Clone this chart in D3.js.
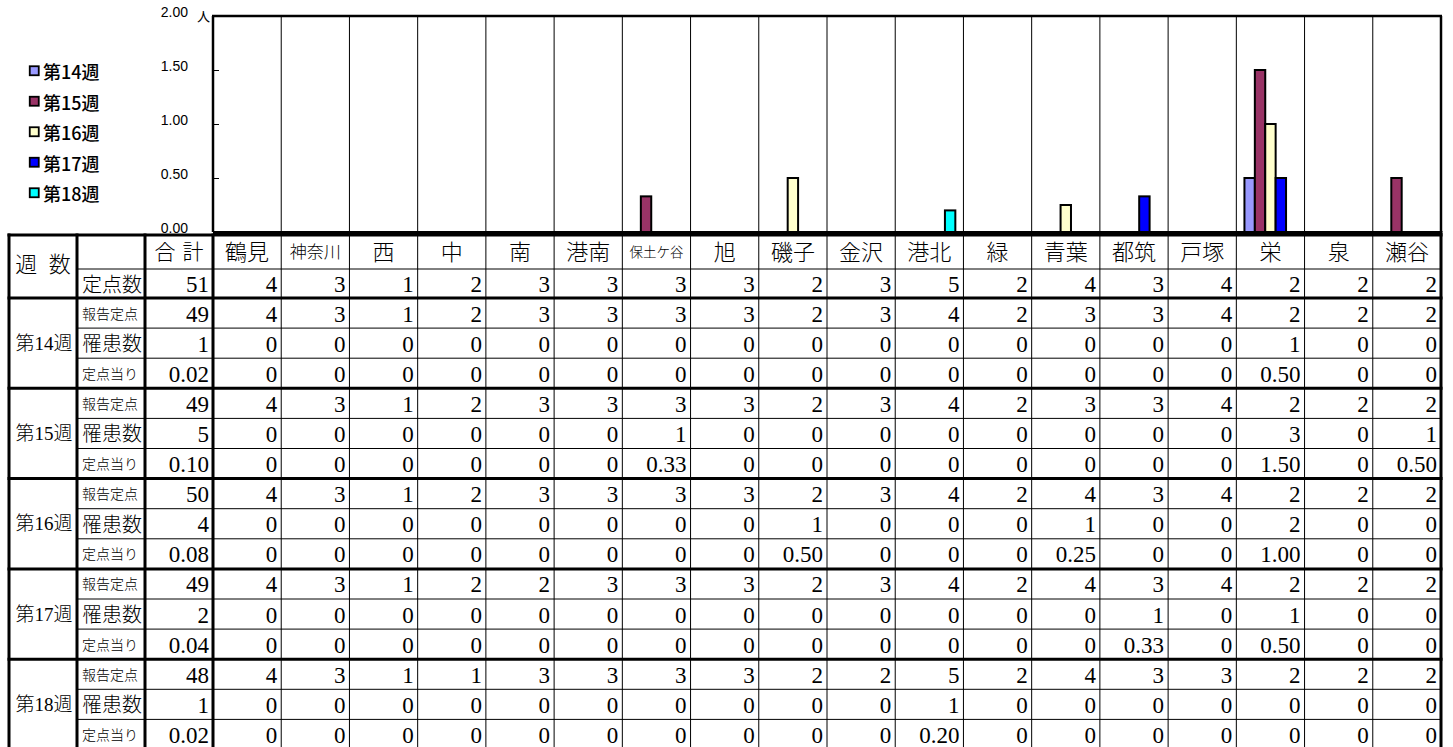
<!DOCTYPE html>
<html>
<head>
<meta charset="utf-8">
<script src="https://cdn.jsdelivr.net/npm/d3@7"></script>
<style>
body { margin: 0; background: #fff; }
</style>
</head>
<body>
<div id="chart"></div>
<script>
// 区・週
var districts = ["鶴見","神奈川","西","中","南","港南","保土ケ谷","旭","磯子","金沢","港北","緑","青葉","都筑","戸塚","栄","泉","瀬谷"];
var districtFont = {"神奈川": 17, "保土ケ谷": 13.5};
var weeks = ["第14週","第15週","第16週","第17週","第18週"];
var weekColors = ["#9999FF","#993366","#FFFFCC","#0000FF","#00FFFF"];
var yTicks = [0, 0.5, 1, 1.5, 2];

// 定点数
var sites = [4,3,1,2,3,3,3,3,2,3,5,2,4,3,4,2,2,2];
var sitesTotal = 51;

// 報告定点
var reported14 = [4,3,1,2,3,3,3,3,2,3,4,2,3,3,4,2,2,2];
var reported15 = [4,3,1,2,3,3,3,3,2,3,4,2,3,3,4,2,2,2];
var reported16 = [4,3,1,2,3,3,3,3,2,3,4,2,4,3,4,2,2,2];
var reported17 = [4,3,1,2,2,3,3,3,2,3,4,2,4,3,4,2,2,2];
var reported18 = [4,3,1,1,3,3,3,3,2,2,5,2,4,3,3,2,2,2];
var reportedTotals = [49,49,50,49,48];

// 罹患数
var cases14 = [0,0,0,0,0,0,0,0,0,0,0,0,0,0,0,1,0,0];
var cases15 = [0,0,0,0,0,0,1,0,0,0,0,0,0,0,0,3,0,1];
var cases16 = [0,0,0,0,0,0,0,0,1,0,0,0,1,0,0,2,0,0];
var cases17 = [0,0,0,0,0,0,0,0,0,0,0,0,0,1,0,1,0,0];
var cases18 = [0,0,0,0,0,0,0,0,0,0,1,0,0,0,0,0,0,0];
var casesTotals = [1,5,4,2,1];

// 定点当り
var rate14 = [0,0,0,0,0,0,0,0,0,0,0,0,0,0,0,0.50,0,0];
var rate15 = [0,0,0,0,0,0,0.33,0,0,0,0,0,0,0,0,1.50,0,0.50];
var rate16 = [0,0,0,0,0,0,0,0,0.50,0,0,0,0.25,0,0,1.00,0,0];
var rate17 = [0,0,0,0,0,0,0,0,0,0,0,0,0,0.33,0,0.50,0,0];
var rate18 = [0,0,0,0,0,0,0,0,0,0,0.20,0,0,0,0,0,0,0];
var rateTotals = [0.02,0.10,0.08,0.04,0.02];

var reported = [reported14, reported15, reported16, reported17, reported18];
var cases = [cases14, cases15, cases16, cases17, cases18];
var rates = [rate14, rate15, rate16, rate17, rate18];

var serif = "'Liberation Serif','Noto Sans CJK JP',serif";
var gothic = "'Noto Sans CJK JP',sans-serif";
var arial = "'Liberation Sans',Arial,sans-serif";

var W = 1453, H = 747;
var plot = {left: 213, right: 1441, top: 16, bottom: 232};

var svg = d3.select("#chart")
  .append("svg")
    .attr("width", W)
    .attr("height", H);

var x = d3.scaleBand()
  .domain(districts)
  .range([plot.left, plot.right]);

var xSub = d3.scaleBand()
  .domain(weeks)
  .range([0, x.bandwidth()])
  .paddingOuter(0.78);

var y = d3.scaleLinear()
  .domain([0, 2])
  .range([plot.bottom, plot.top]);

var color = d3.scaleOrdinal()
  .domain(weeks)
  .range(weekColors);

// category separators
svg.append("g")
  .selectAll("line")
  .data(districts.slice(1))
  .enter().append("line")
    .attr("x1", d => x(d)).attr("x2", d => x(d))
    .attr("y1", plot.top).attr("y2", plot.bottom)
    .attr("stroke", "#000")
    .attr("stroke-width", 1);

// bars
var bars = [];
weeks.forEach(function(w, i) {
  districts.forEach(function(d, j) {
    if (rates[i][j] > 0) bars.push({week: w, district: d, value: rates[i][j]});
  });
});

svg.append("g")
  .selectAll("rect")
  .data(bars)
  .enter().append("rect")
    .attr("x", d => x(d.district) + xSub(d.week))
    .attr("y", d => y(d.value))
    .attr("width", xSub.bandwidth())
    .attr("height", d => y(0) - y(d.value))
    .attr("fill", d => color(d.week))
    .attr("stroke", "#000")
    .attr("stroke-width", 2);

// y axis (ticks inside, labels left)
var yAxis = svg.append("g")
  .attr("transform", "translate(" + plot.left + ",0)")
  .call(d3.axisLeft(y).tickValues(yTicks).tickSize(-6).tickPadding(25).tickFormat(d3.format(".2f")));
yAxis.select(".domain").remove();
yAxis.selectAll("line").attr("stroke", "#000").attr("stroke-width", 1);
yAxis.selectAll("text")
  .attr("y", -4)
  .style("font-family", arial)
  .style("font-size", "14px")
  .attr("fill", "#000");

svg.append("text")
  .attr("x", 197).attr("y", 21)
  .style("font-family", gothic)
  .style("font-size", "13px")
  .text("人");

// plot frame
svg.append("line").attr("x1", plot.left - 1).attr("x2", plot.right + 1).attr("y1", plot.top).attr("y2", plot.top)
  .attr("stroke", "#000").attr("stroke-width", 2.5);
svg.append("line").attr("x1", plot.left).attr("x2", plot.left).attr("y1", plot.top).attr("y2", plot.bottom)
  .attr("stroke", "#000").attr("stroke-width", 2.5);
svg.append("line").attr("x1", plot.right).attr("x2", plot.right).attr("y1", plot.top).attr("y2", plot.bottom)
  .attr("stroke", "#000").attr("stroke-width", 2.5);
svg.append("line").attr("x1", plot.left).attr("x2", plot.right + 1.5).attr("y1", plot.bottom + 0.5).attr("y2", plot.bottom + 0.5)
  .attr("stroke", "#000").attr("stroke-width", 3);

// legend
var ly = d3.scalePoint().domain(weeks).range([71, 193]);
var legend = svg.selectAll(".legend")
  .data(weeks)
  .enter().append("g")
    .attr("class", "legend")
    .attr("transform", d => "translate(29," + ly(d) + ")");
legend.append("rect")
  .attr("x", 0.75).attr("y", -4.75)
  .attr("width", 9).attr("height", 9)
  .attr("fill", d => color(d))
  .attr("stroke", "#000")
  .attr("stroke-width", 1.8);
legend.append("text")
  .attr("x", 14)
  .attr("dominant-baseline", "central")
  .style("font-family", gothic)
  .style("font-size", "18px")
  .style("font-weight", 500)
  .text(d => d);

// table
var col = {weekL: 9, labelL: 77, totalL: 145, totalR: plot.left, right: plot.right};
var tableTop = 235, headH = 34, sitesH = 29, rowH = 30.1;
var intFmt = d => String(d);
var rateFmt = d => d === 0 ? "0" : d3.format(".2f")(d);

var rows = [];
rows.push({top: tableTop + headH, h: sitesH, label: "定点数", size: 20, total: String(sitesTotal), values: sites, fmt: intFmt});
weeks.forEach(function(w, i) {
  var t0 = tableTop + headH + sitesH + i * 3 * rowH;
  rows.push({top: t0, h: rowH, label: "報告定点", size: 14, total: String(reportedTotals[i]), values: reported[i], fmt: intFmt});
  rows.push({top: t0 + rowH, h: rowH, label: "罹患数", size: 20, total: String(casesTotals[i]), values: cases[i], fmt: intFmt});
  rows.push({top: t0 + 2 * rowH, h: rowH, label: "定点当り", size: 14, total: d3.format(".2f")(rateTotals[i]), values: rates[i], fmt: rateFmt});
});

var table = svg.append("g")
  .style("font-weight", 300);

// header row
table.append("text")
  .attr("x", (col.weekL + col.labelL) / 2)
  .attr("y", tableTop + (headH + sitesH) / 2 - 2)
  .attr("text-anchor", "middle")
  .attr("dominant-baseline", "central")
  .style("font-family", serif)
  .style("font-size", "22px")
  .style("word-spacing", "6px")
  .text("週 数");
table.append("text")
  .attr("x", (col.totalL + col.totalR) / 2)
  .attr("y", tableTop + headH / 2)
  .attr("text-anchor", "middle")
  .attr("dominant-baseline", "central")
  .style("font-family", serif)
  .style("font-size", "21px")
  .style("word-spacing", "2px")
  .text("合 計");
table.selectAll(".dname")
  .data(districts)
  .enter().append("text")
    .attr("class", "dname")
    .attr("x", d => x(d) + x.bandwidth() / 2)
    .attr("y", tableTop + headH / 2)
    .attr("text-anchor", "middle")
    .attr("dominant-baseline", "central")
    .style("font-family", serif)
    .style("font-size", d => (districtFont[d] || 22) + "px")
    .text(d => d);

// week labels
weeks.forEach(function(w, i) {
  var t0 = tableTop + headH + sitesH + i * 3 * rowH;
  table.append("text")
    .attr("x", (col.weekL + col.labelL) / 2 + 1)
    .attr("y", t0 + 1.5 * rowH)
    .attr("text-anchor", "middle")
    .attr("dominant-baseline", "central")
    .style("font-family", serif)
    .style("font-size", "19px")
    .text(w);
});

// data rows
var rowG = table.selectAll(".row")
  .data(rows)
  .enter().append("g")
    .attr("class", "row")
    .attr("transform", d => "translate(0," + (d.top + d.h / 2 + 1) + ")");
rowG.append("text")
  .attr("x", col.labelL + 5)
  .attr("dominant-baseline", "central")
  .style("font-family", serif)
  .style("font-size", d => d.size + "px")
  .text(d => d.label);
rowG.append("text")
  .attr("x", col.totalR - 4)
  .attr("text-anchor", "end")
  .attr("dominant-baseline", "central")
  .style("font-family", serif)
  .style("font-size", "23px")
  .text(d => d.total);
rowG.selectAll(".cell")
  .data(d => d.values.map((v, j) => ({district: districts[j], text: d.fmt(v)})))
  .enter().append("text")
    .attr("class", "cell")
    .attr("x", d => x(d.district) + x.bandwidth() - 4)
    .attr("text-anchor", "end")
    .attr("dominant-baseline", "central")
    .style("font-family", serif)
    .style("font-size", "23px")
    .text(d => d.text);

// table grid: thin lines
var tableBottom = tableTop + headH + sitesH + 15 * rowH;
var thinH = [tableTop + headH];
rows.forEach(function(r, k) { if (k > 0 && (k - 1) % 3 !== 0) thinH.push(r.top); });
table.selectAll(".hthin")
  .data(thinH)
  .enter().append("line")
    .attr("x1", col.labelL).attr("x2", col.right)
    .attr("y1", d => d).attr("y2", d => d)
    .attr("stroke", "#000").attr("stroke-width", 1);
table.selectAll(".vthin")
  .data(districts.slice(1))
  .enter().append("line")
    .attr("x1", d => x(d)).attr("x2", d => x(d))
    .attr("y1", tableTop).attr("y2", tableBottom)
    .attr("stroke", "#000").attr("stroke-width", 1);

// table grid: thick lines
var thickH = [tableTop, tableTop + headH + sitesH];
weeks.forEach(function(w, i) { thickH.push(tableTop + headH + sitesH + (i + 1) * 3 * rowH); });
table.selectAll(".hthick")
  .data(thickH)
  .enter().append("line")
    .attr("x1", col.weekL - 1.5).attr("x2", col.right + 1.5)
    .attr("y1", d => d).attr("y2", d => d)
    .attr("stroke", "#000").attr("stroke-width", 3);
table.selectAll(".vthick")
  .data([col.weekL, col.labelL, col.totalL, col.totalR, col.right])
  .enter().append("line")
    .attr("x1", d => d).attr("x2", d => d)
    .attr("y1", tableTop - 1.5).attr("y2", tableBottom)
    .attr("stroke", "#000").attr("stroke-width", 3);
</script>
</body>
</html>
